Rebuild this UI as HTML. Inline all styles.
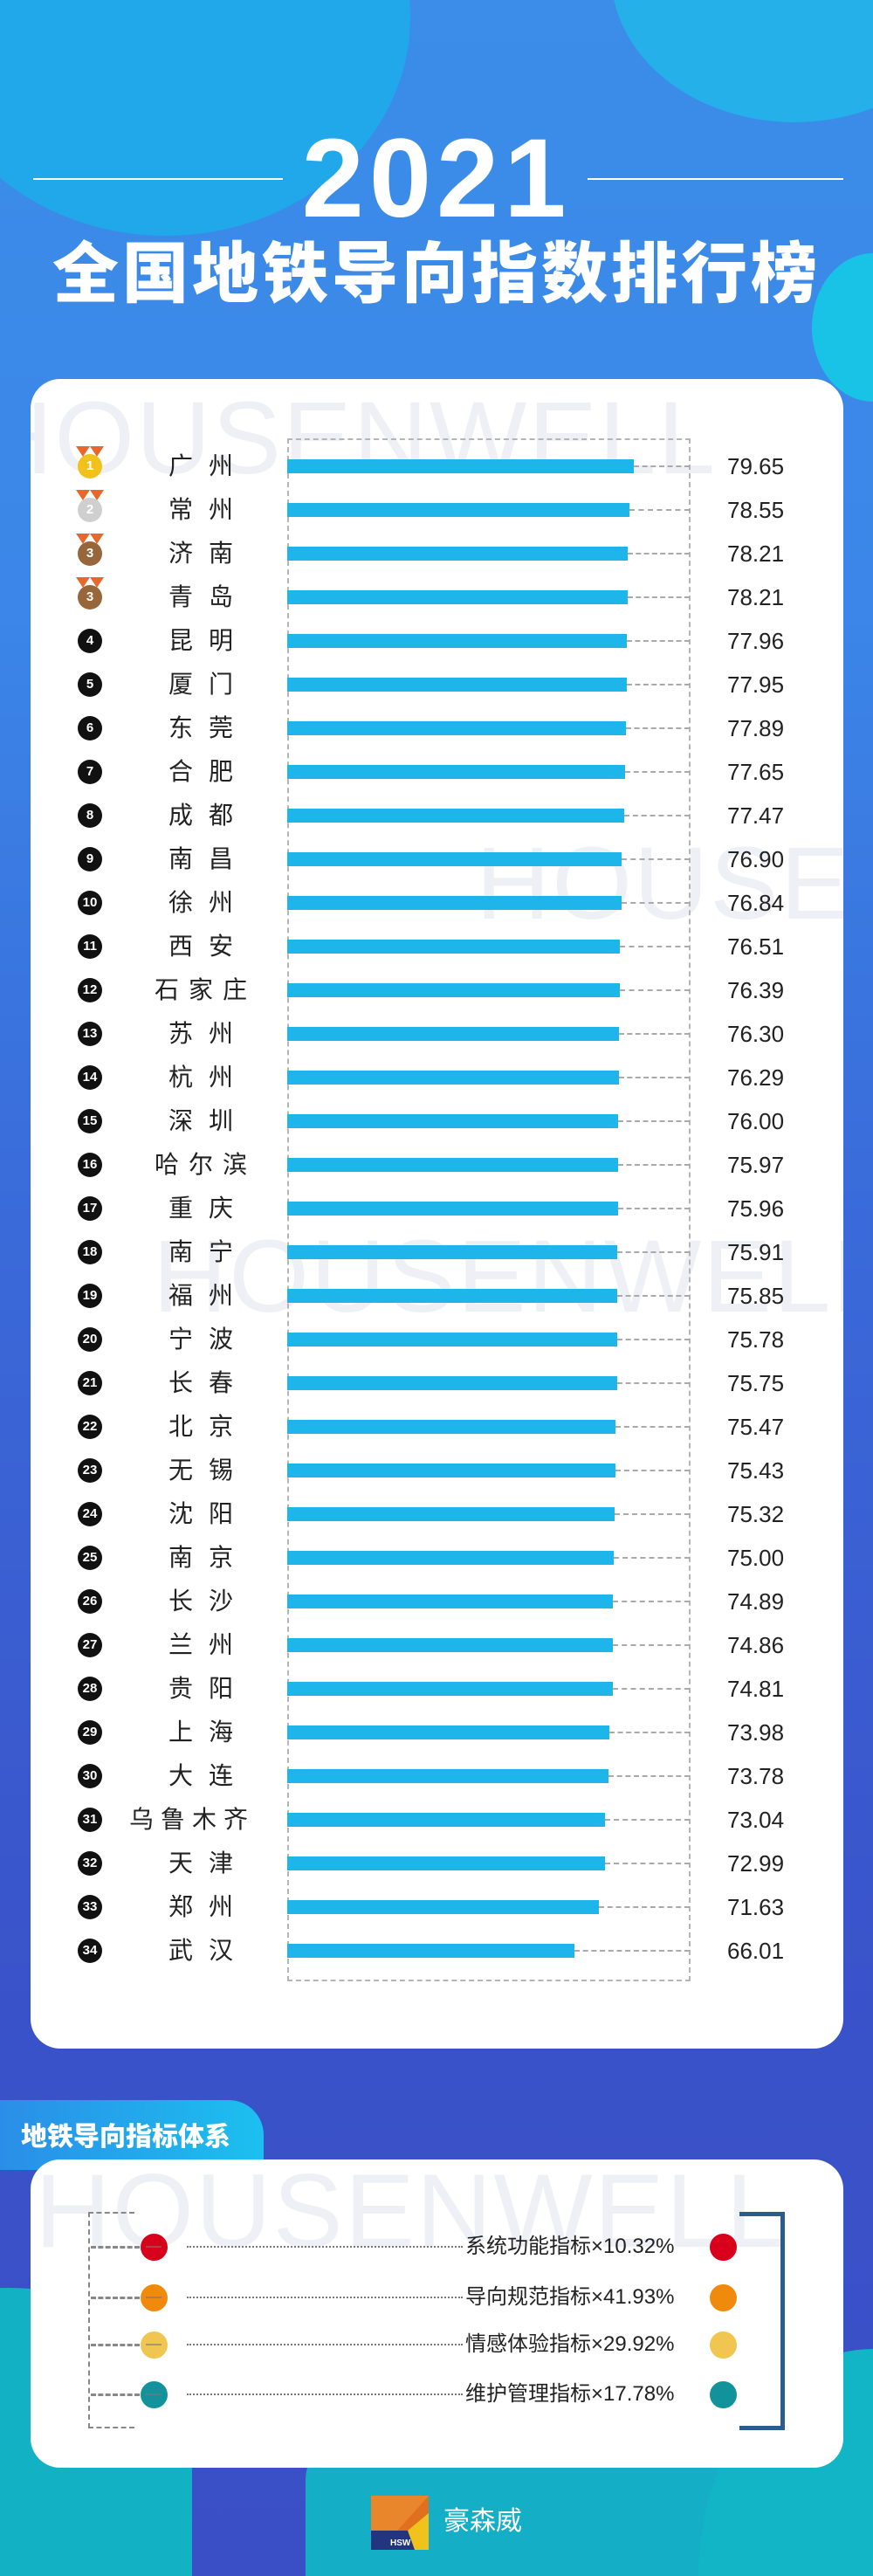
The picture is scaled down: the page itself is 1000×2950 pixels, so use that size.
<!DOCTYPE html>
<html style="width:1000px;height:2950px;overflow:hidden;background:#3a4fc6"><head><meta charset="utf-8"><style>
*{margin:0;padding:0;box-sizing:border-box}
body{width:1000px;height:2950px;position:relative;overflow:hidden;font-family:"Liberation Sans","Noto Sans CJK SC",sans-serif;
background:linear-gradient(#3b8de9 0,#3b86e8 700px,#3a6ad9 1400px,#3a52c9 2300px,#3a4fc6 2950px)}
.blob{position:absolute;border-radius:50%}
.card{position:absolute;background:#fff;border-radius:34px}
.wm{position:absolute;font-size:118px;color:#eef0f5;letter-spacing:2px;white-space:nowrap;font-weight:400}
.r{position:absolute;left:0;width:1000px;height:50px}
.r i{position:absolute;left:89px;top:11px;width:28px;height:28px;border-radius:50%;background:#111;color:#fff;font-style:normal;font-size:15px;font-weight:700;text-align:center;line-height:28px}
.r i.g{background:#f3c11c}.r i.sv{background:#cfcfcf}.r i.bz{background:#97663a}
.r i.g:before,.r i.sv:before,.r i.bz:before{content:"";position:absolute;left:-2px;top:-9px;width:0;height:0;border-left:8px solid transparent;border-right:8px solid transparent;border-top:12px solid #e9662c}
.r i.g:after,.r i.sv:after,.r i.bz:after{content:"";position:absolute;left:14px;top:-9px;width:0;height:0;border-left:8px solid transparent;border-right:8px solid transparent;border-top:12px solid #e9662c}
.r b{position:absolute;left:130px;width:200px;text-align:center;font-weight:400;font-size:28px;line-height:50px;color:#222}
.n2{letter-spacing:18px;padding-left:18px}.n3{letter-spacing:11px;padding-left:11px}.n4{letter-spacing:8px;padding-left:8px;left:116px!important}
.r s{position:absolute;left:329px;top:17px;height:16px;background:#1eb6ea}
.r u{position:absolute;right:210px;top:24px;border-top:2px dashed #aaa}
.r em{position:absolute;left:833px;font-style:normal;font-size:26px;line-height:50px;color:#222}
.box{position:absolute;left:329px;top:502px;width:462px;height:1767px;border:2px dashed #b5b5b5}
.ir{position:absolute;left:0;width:1000px;height:34px}
.ir .c1,.ir .c2{position:absolute;top:2px;width:31px;height:31px;border-radius:50%}
.ir .c1{left:161px}.ir .c2{left:813px}
.ir .c1:after{content:"";position:absolute;left:6px;top:14px;width:18px;border-top:2px solid rgba(120,120,120,.6)}
.ir .dl{position:absolute;left:104px;width:56px;top:16px;border-top:3px dashed #888}
.ir .dt{position:absolute;left:214px;width:316px;top:16px;border-top:2px dotted #777}
.ir .tx{position:absolute;left:533px;top:0;font-size:24px;line-height:34px;color:#222;white-space:nowrap}
</style></head><body>
<div class="blob" style="left:-90px;top:-230px;width:560px;height:500px;background:#20a8ea"></div>
<div class="blob" style="left:700px;top:-200px;width:420px;height:340px;background:#25b0ea"></div>
<div class="blob" style="left:930px;top:290px;width:140px;height:170px;background:#19c3e6"></div>
<div class="blob" style="left:-200px;top:2620px;width:420px;height:330px;border-radius:50% 50% 0 0;background:#12b2c4"></div>
<div class="blob" style="left:350px;top:2730px;width:500px;height:220px;border-radius:50% 50% 0 0;background:#14aec6"></div>
<div class="blob" style="left:800px;top:2690px;width:200px;height:260px;border-radius:100% 0 0 0;background:#12b5c6"></div>

<div style="position:absolute;left:38px;top:204px;width:286px;border-top:2px solid #fff"></div>
<div style="position:absolute;left:673px;top:204px;width:293px;border-top:2px solid #fff"></div>
<div style="position:absolute;left:0;width:1000px;top:140px;text-align:center;color:#fff;font-size:128px;font-weight:700;line-height:130px;letter-spacing:6px">2021</div>
<div style="position:absolute;left:0;width:1000px;top:262px;text-align:center;color:#fff;font-size:76px;font-weight:900;line-height:90px;letter-spacing:4px;font-family:'Noto Sans CJK SC',sans-serif">全国地铁导向指数排行榜</div>

<div class="card" style="left:35px;top:434px;width:931px;height:1912px;overflow:hidden">
<div class="wm" style="left:-60px;top:0px">HOUSENWELL</div>
<div class="wm" style="left:510px;top:510px">HOUSEN</div>
<div class="wm" style="left:140px;top:960px">HOUSENWELL</div>
</div>
<div class="box"></div>

<div class="r" style="top:509px"><i class="g">1</i><b class="n2">广州</b><s style="width:397px"></s><u style="left:726px"></u><em>79.65</em></div>
<div class="r" style="top:559px"><i class="sv">2</i><b class="n2">常州</b><s style="width:392px"></s><u style="left:721px"></u><em>78.55</em></div>
<div class="r" style="top:609px"><i class="bz">3</i><b class="n2">济南</b><s style="width:390px"></s><u style="left:719px"></u><em>78.21</em></div>
<div class="r" style="top:659px"><i class="bz">3</i><b class="n2">青岛</b><s style="width:390px"></s><u style="left:719px"></u><em>78.21</em></div>
<div class="r" style="top:709px"><i>4</i><b class="n2">昆明</b><s style="width:389px"></s><u style="left:718px"></u><em>77.96</em></div>
<div class="r" style="top:759px"><i>5</i><b class="n2">厦门</b><s style="width:389px"></s><u style="left:718px"></u><em>77.95</em></div>
<div class="r" style="top:809px"><i>6</i><b class="n2">东莞</b><s style="width:388px"></s><u style="left:717px"></u><em>77.89</em></div>
<div class="r" style="top:859px"><i>7</i><b class="n2">合肥</b><s style="width:387px"></s><u style="left:716px"></u><em>77.65</em></div>
<div class="r" style="top:909px"><i>8</i><b class="n2">成都</b><s style="width:386px"></s><u style="left:715px"></u><em>77.47</em></div>
<div class="r" style="top:959px"><i>9</i><b class="n2">南昌</b><s style="width:383px"></s><u style="left:712px"></u><em>76.90</em></div>
<div class="r" style="top:1009px"><i>10</i><b class="n2">徐州</b><s style="width:383px"></s><u style="left:712px"></u><em>76.84</em></div>
<div class="r" style="top:1059px"><i>11</i><b class="n2">西安</b><s style="width:381px"></s><u style="left:710px"></u><em>76.51</em></div>
<div class="r" style="top:1109px"><i>12</i><b class="n3">石家庄</b><s style="width:381px"></s><u style="left:710px"></u><em>76.39</em></div>
<div class="r" style="top:1159px"><i>13</i><b class="n2">苏州</b><s style="width:380px"></s><u style="left:709px"></u><em>76.30</em></div>
<div class="r" style="top:1209px"><i>14</i><b class="n2">杭州</b><s style="width:380px"></s><u style="left:709px"></u><em>76.29</em></div>
<div class="r" style="top:1259px"><i>15</i><b class="n2">深圳</b><s style="width:379px"></s><u style="left:708px"></u><em>76.00</em></div>
<div class="r" style="top:1309px"><i>16</i><b class="n3">哈尔滨</b><s style="width:379px"></s><u style="left:708px"></u><em>75.97</em></div>
<div class="r" style="top:1359px"><i>17</i><b class="n2">重庆</b><s style="width:379px"></s><u style="left:708px"></u><em>75.96</em></div>
<div class="r" style="top:1409px"><i>18</i><b class="n2">南宁</b><s style="width:378px"></s><u style="left:707px"></u><em>75.91</em></div>
<div class="r" style="top:1459px"><i>19</i><b class="n2">福州</b><s style="width:378px"></s><u style="left:707px"></u><em>75.85</em></div>
<div class="r" style="top:1509px"><i>20</i><b class="n2">宁波</b><s style="width:378px"></s><u style="left:707px"></u><em>75.78</em></div>
<div class="r" style="top:1559px"><i>21</i><b class="n2">长春</b><s style="width:378px"></s><u style="left:707px"></u><em>75.75</em></div>
<div class="r" style="top:1609px"><i>22</i><b class="n2">北京</b><s style="width:376px"></s><u style="left:705px"></u><em>75.47</em></div>
<div class="r" style="top:1659px"><i>23</i><b class="n2">无锡</b><s style="width:376px"></s><u style="left:705px"></u><em>75.43</em></div>
<div class="r" style="top:1709px"><i>24</i><b class="n2">沈阳</b><s style="width:375px"></s><u style="left:704px"></u><em>75.32</em></div>
<div class="r" style="top:1759px"><i>25</i><b class="n2">南京</b><s style="width:374px"></s><u style="left:703px"></u><em>75.00</em></div>
<div class="r" style="top:1809px"><i>26</i><b class="n2">长沙</b><s style="width:373px"></s><u style="left:702px"></u><em>74.89</em></div>
<div class="r" style="top:1859px"><i>27</i><b class="n2">兰州</b><s style="width:373px"></s><u style="left:702px"></u><em>74.86</em></div>
<div class="r" style="top:1909px"><i>28</i><b class="n2">贵阳</b><s style="width:373px"></s><u style="left:702px"></u><em>74.81</em></div>
<div class="r" style="top:1959px"><i>29</i><b class="n2">上海</b><s style="width:369px"></s><u style="left:698px"></u><em>73.98</em></div>
<div class="r" style="top:2009px"><i>30</i><b class="n2">大连</b><s style="width:368px"></s><u style="left:697px"></u><em>73.78</em></div>
<div class="r" style="top:2059px"><i>31</i><b class="n4">乌鲁木齐</b><s style="width:364px"></s><u style="left:693px"></u><em>73.04</em></div>
<div class="r" style="top:2109px"><i>32</i><b class="n2">天津</b><s style="width:364px"></s><u style="left:693px"></u><em>72.99</em></div>
<div class="r" style="top:2159px"><i>33</i><b class="n2">郑州</b><s style="width:357px"></s><u style="left:686px"></u><em>71.63</em></div>
<div class="r" style="top:2209px"><i>34</i><b class="n2">武汉</b><s style="width:329px"></s><u style="left:658px"></u><em>66.01</em></div>

<div style="position:absolute;left:0;top:2405px;width:302px;height:80px;border-radius:0 40px 0 0;background:linear-gradient(90deg,#2a8ee8,#1cc0ef)"></div>
<div style="position:absolute;left:24px;top:2422px;color:#fff;font-size:30px;font-weight:900;line-height:44px;font-family:'Noto Sans CJK SC',sans-serif">地铁导向指标体系</div>
<div class="card" style="left:35px;top:2473px;width:931px;height:353px;overflow:hidden">
<div class="wm" style="left:5px;top:-10px;font-size:120px">HOUSENWELL</div>
</div>
<div style="position:absolute;left:101px;top:2533px;height:248px;border-left:2px dashed #888"></div>
<div style="position:absolute;left:101px;top:2533px;width:53px;border-top:2px dashed #888"></div>
<div style="position:absolute;left:101px;top:2779px;width:53px;border-top:2px dashed #888"></div>
<div style="position:absolute;left:847px;top:2533px;width:52px;height:250px;border:5px solid #2e5a8c;border-left:none"></div>

<div class="ir" style="top:2556px"><span class="dl"></span><span class="c1" style="background:#d9001b"></span><span class="dt"></span><span class="tx">系统功能指标×10.32%</span><span class="c2" style="background:#d9001b"></span></div>
<div class="ir" style="top:2614px"><span class="dl"></span><span class="c1" style="background:#ef8a0c"></span><span class="dt"></span><span class="tx">导向规范指标×41.93%</span><span class="c2" style="background:#ef8a0c"></span></div>
<div class="ir" style="top:2668px"><span class="dl"></span><span class="c1" style="background:#f0c550"></span><span class="dt"></span><span class="tx">情感体验指标×29.92%</span><span class="c2" style="background:#f0c550"></span></div>
<div class="ir" style="top:2725px"><span class="dl"></span><span class="c1" style="background:#12939c"></span><span class="dt"></span><span class="tx">维护管理指标×17.78%</span><span class="c2" style="background:#12939c"></span></div>

<svg style="position:absolute;left:425px;top:2858px" width="66" height="62" viewBox="0 0 66 62">
<rect width="66" height="62" fill="#f0c21b"/>
<polygon points="0,0 66,0 30,40 0,40" fill="#e9862c"/>
<polygon points="0,40 42,40 50,62 0,62" fill="#23357e"/>
<polygon points="30,40 66,0 66,20 42,40" fill="#e07020"/>
<text x="22" y="57" font-size="10" fill="#fff" font-family="Liberation Sans" font-weight="700">HSW</text>
</svg>
<div style="position:absolute;left:508px;top:2866px;color:#fff;font-size:30px;line-height:44px">豪森威</div>
</body></html>
